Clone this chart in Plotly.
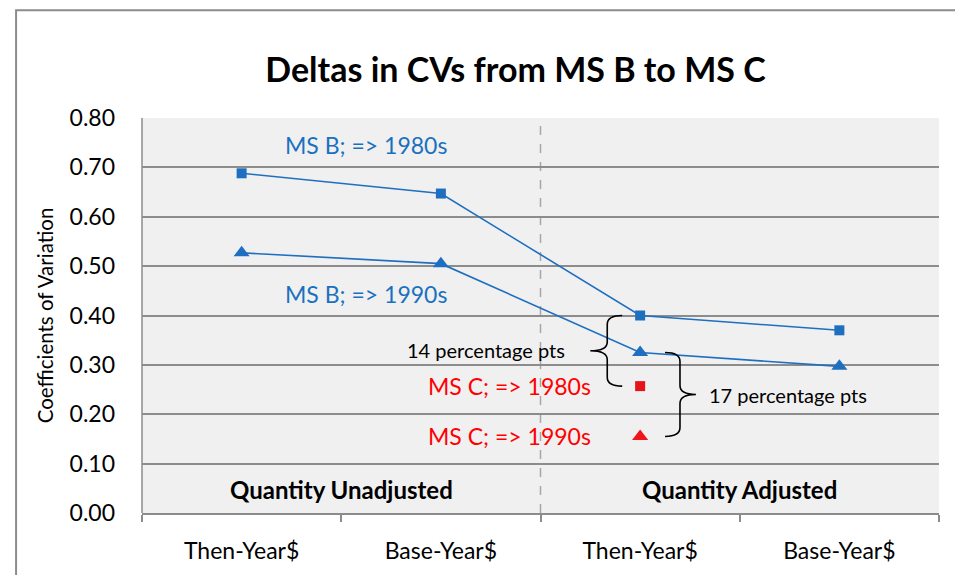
import plotly.graph_objects as go

# ---- data ----
categories = ["Then-Year$", "Base-Year$", "Then-Year$", "Base-Year$"]
x_pos = [0, 1, 2, 3]
ms_b_1980s = [0.688, 0.647, 0.400, 0.370]
ms_b_1990s = [0.527, 0.505, 0.325, 0.297]
ms_c_1980s = [0.257]
ms_c_1990s = [0.155]
ms_c_x = [2]
y_ticks = [0.0, 0.1, 0.2, 0.3, 0.4, 0.5, 0.6, 0.7, 0.8]
group_labels = ["Quantity Unadjusted", "Quantity Adjusted"]
group_centers = [0.5, 2.5]

BLUE = "#1F6FC0"
BLUE_TXT = "#1A70C0"
RED = "#FF0000"
FONT = "Lato, 'Open Sans', sans-serif"

fig = go.Figure()
fig.add_trace(go.Scatter(x=x_pos, y=ms_b_1980s, mode="lines+markers",
                         line=dict(color=BLUE, width=1.6),
                         marker=dict(symbol="square", size=10, color=BLUE),
                         showlegend=False))
fig.add_trace(go.Scatter(x=x_pos, y=ms_b_1990s, mode="lines+markers",
                         line=dict(color=BLUE, width=1.6),
                         marker=dict(symbol="triangle-up", size=14, color=BLUE),
                         showlegend=False))
fig.add_trace(go.Scatter(x=ms_c_x, y=ms_c_1980s, mode="markers",
                         marker=dict(symbol="square", size=10, color="#E5141B"),
                         showlegend=False))
fig.add_trace(go.Scatter(x=ms_c_x, y=ms_c_1990s, mode="markers",
                         marker=dict(symbol="triangle-up", size=14, color="#F0141B"),
                         showlegend=False))


def brace(x_v, x_end, x_tip, y_top, y_bot, r=0.018):
    y_mid = (y_top + y_bot) / 2
    return (f"M {x_end},{y_top} Q {x_v},{y_top} {x_v},{y_top - r} "
            f"L {x_v},{y_mid + r} Q {x_v},{y_mid} {x_tip},{y_mid} "
            f"Q {x_v},{y_mid} {x_v},{y_mid - r} "
            f"L {x_v},{y_bot + r} Q {x_v},{y_bot} {x_end},{y_bot}")


shapes = []
# dashed separator
shapes.append(dict(type="line", xref="x", yref="y", x0=1.5, x1=1.5, y0=0, y1=0.8,
                   line=dict(color="#A6A6A6", width=1.5, dash="dash"), layer="below"))
# left brace (14 pts)
shapes.append(dict(type="path", xref="x", yref="y",
                   path=brace(2 - 0.165, 2 - 0.09, 2 - 0.25, ms_b_1980s[2], ms_c_1980s[0]),
                   line=dict(color="black", width=1.6)))
# right brace (17 pts)
shapes.append(dict(type="path", xref="x", yref="y",
                   path=brace(2 + 0.20, 2 + 0.125, 2 + 0.28, ms_b_1990s[2], ms_c_1990s[0]),
                   line=dict(color="black", width=1.6)))
# outer chart border
shapes.append(dict(type="rect", xref="paper", yref="paper",
                   x0=-0.158, x1=1.08, y0=-0.35, y1=1.273,
                   line=dict(color="#8C8C8C", width=2), layer="below"))
# left axis line
shapes.append(dict(type="line", xref="paper", yref="paper", x0=0, x1=0, y0=0, y1=1,
                   line=dict(color="#8C8C8C", width=1.5)))

annotations = [
    dict(x=0.624, y=0.745, text="MS B; => 1980s", font=dict(color=BLUE_TXT, size=23, family=FONT)),
    dict(x=0.624, y=0.443, text="MS B; => 1990s", font=dict(color=BLUE_TXT, size=23, family=FONT)),
    dict(x=1.226, y=0.331, text="14 percentage pts", font=dict(color="black", size=20, family=FONT)),
    dict(x=1.763, y=ms_c_1980s[0], text="MS C; => 1980s", xanchor="right",
         font=dict(color=RED, size=23, family=FONT)),
    dict(x=1.763, y=ms_c_1990s[0], text="MS C; => 1990s", xanchor="right",
         font=dict(color=RED, size=23, family=FONT)),
    dict(x=2.336, y=0.24, text="17 percentage pts", xanchor="left",
         font=dict(color="black", size=20, family=FONT)),
]
for gx, gl in zip(group_centers, group_labels):
    annotations.append(dict(x=gx, y=0.048, text=f"<b>{gl}</b>",
                            font=dict(color="black", size=24, family=FONT)))
for a in annotations:
    a.update(xref="x", yref="y", showarrow=False)

fig.update_layout(
    width=963, height=575,
    margin=dict(l=134, r=32, t=110, b=70),
    paper_bgcolor="white",
    plot_bgcolor="#F0F0F0",
    title=dict(text="<b>Deltas in CVs from MS B to MS C</b>", x=0.527, xref="container",
               xanchor="center", y=0.892, yref="container", yanchor="middle",
               font=dict(family=FONT, size=34, color="black")),
    font=dict(family=FONT, color="black"),
    shapes=shapes,
    annotations=annotations,
    xaxis=dict(range=[-0.5, 3.5], tickvals=x_pos, ticktext=categories,
               ticks="", showgrid=False, zeroline=False,
               showline=True, linecolor="#8C8C8C", linewidth=2,
               tickfont=dict(size=23, family=FONT, color="black"),
               ticklabelstandoff=16,
               minor=dict(ticks="outside", tick0=-0.5, dtick=1, ticklen=7,
                          tickcolor="#8C8C8C", tickwidth=1.5, showgrid=False)),
    yaxis=dict(range=[0, 0.8], tickvals=y_ticks, tickformat=".2f",
               showgrid=True, gridcolor="#8C8C8C", gridwidth=2,
               zeroline=False, showline=False, ticks="",
               tickfont=dict(size=23, family=FONT, color="black"),
               ticklabelstandoff=26,
               title=dict(text="Coefficients of Variation", standoff=10,
                          font=dict(size=20.5, family=FONT, color="black"))),
)

fig.write_html("out.html")
